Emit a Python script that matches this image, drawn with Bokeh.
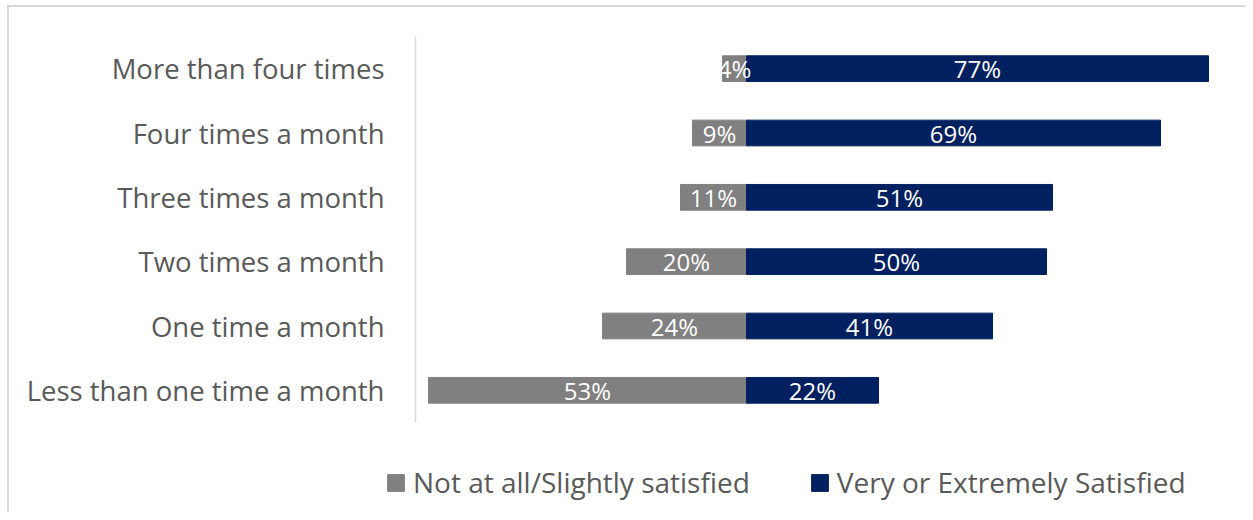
from bokeh.plotting import figure
from bokeh.models import Range1d, Legend, LegendItem, ColumnDataSource, FixedTicker
from bokeh.core.properties import value
from bokeh.embed import file_html
from bokeh.resources import INLINE

categories = ["Less than one time a month", "One time a month", "Two times a month",
              "Three times a month", "Four times a month", "More than four times"]
not_satisfied = [53, 24, 20, 11, 9, 4]
very_satisfied = [22, 41, 50, 51, 69, 77]
series_names = ["Not at all/Slightly satisfied", "Very or Extremely Satisfied"]

GRAY = "#808080"
NAVY = "#002060"
FONT = "Open Sans"

W, H = 1245, 512
PX_X = 6.0            # pixels per percentage point
ZERO_X = 746          # pixel position of 0 %
AXIS_X = 415          # pixel position of the category axis line
TOP, BOTTOM = 36, 422  # vertical extent of the category band
n = len(categories)
px_y = (BOTTOM - TOP) / n

pos = list(range(n))
src = ColumnDataSource(dict(
    y=pos,
    neg=[-v for v in not_satisfied],
    pos=very_satisfied,
    neg_mid=[-v / 2 for v in not_satisfied],
    pos_mid=[v / 2 for v in very_satisfied],
    neg_lbl=[f"{v}%" for v in not_satisfied],
    pos_lbl=[f"{v}%" for v in very_satisfied],
))

x_range = Range1d(-ZERO_X / PX_X, (W - ZERO_X) / PX_X)
y_range = Range1d(-0.5 - (H - BOTTOM) / px_y, n - 0.5 + TOP / px_y)

p = figure(width=W, height=H, output_backend="svg", toolbar_location=None,
           x_range=x_range, y_range=y_range, x_axis_location=None,
           min_border_left=0, min_border_right=0, min_border_top=0, min_border_bottom=0)
p.border_fill_color = None
p.background_fill_color = None
p.outline_line_color = None
p.grid.visible = False
p.styles = {
    "background-color": "white",
    "background-image": "linear-gradient(#d9d9d9, #d9d9d9), linear-gradient(#d9d9d9, #d9d9d9)",
    "background-size": "2px 100%, 100% 2px",
    "background-position": "7px 5px, 7px 5px",
    "background-repeat": "no-repeat",
}

r1 = p.hbar(y="y", left="neg", right=0, height=0.4, color=GRAY, source=src)
r2 = p.hbar(y="y", left=0, right="pos", height=0.4, color=NAVY, source=src)

p.text(x="neg_mid", y="y", text="neg_lbl", source=src, text_color="white",
       text_font=value(FONT), text_font_size="24px", text_align="center",
       text_baseline="middle")
p.text(x="pos_mid", y="y", text="pos_lbl", source=src, text_color="white",
       text_font=value(FONT), text_font_size="24px", text_align="center",
       text_baseline="middle")

ax = p.yaxis[0]
ax.ticker = FixedTicker(ticks=pos)
ax.major_label_overrides = {i: c for i, c in zip(pos, categories)}
ax.fixed_location = (AXIS_X - ZERO_X) / PX_X
ax.bounds = (-0.5, n - 0.5)
ax.axis_line_color = "#d9d9d9"
ax.axis_line_width = 1.5
ax.major_tick_line_color = None
ax.minor_tick_line_color = None
ax.major_tick_in = 0
ax.major_tick_out = 0
ax.major_label_standoff = 31
ax.major_label_text_font = FONT
ax.major_label_text_font_size = "27.5px"
ax.major_label_text_color = "#595959"

legend = Legend(items=[LegendItem(label=series_names[0], renderers=[r1]),
                       LegendItem(label=series_names[1], renderers=[r2])],
                orientation="horizontal", location=(385, 11),
                glyph_width=21, glyph_height=21, label_standoff=7, spacing=59,
                padding=0, margin=0, border_line_color=None,
                background_fill_alpha=0,
                label_text_font=FONT, label_text_font_size="28px",
                label_text_color="#595959")
p.add_layout(legend, "center")

open("out.html", "w").write(file_html(p, INLINE))
